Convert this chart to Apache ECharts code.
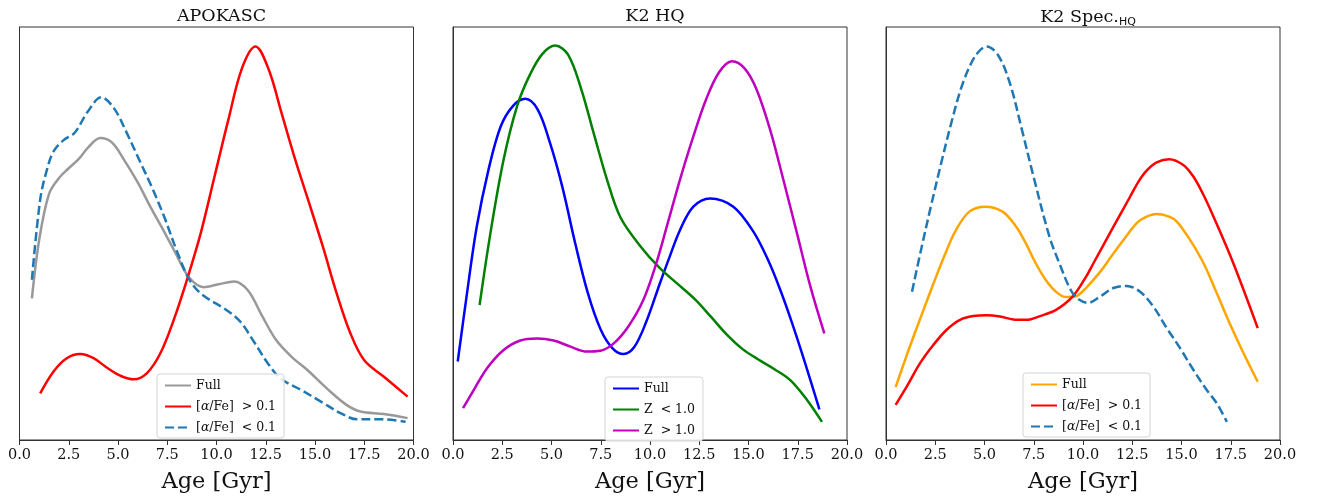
<!DOCTYPE html>
<html><head><meta charset="utf-8">
<script src="https://cdn.jsdelivr.net/npm/echarts@6/dist/echarts.min.js"></script>
<style>html,body{margin:0;padding:0;background:#fff}#c{width:1322px;height:499px}</style>
</head><body><div id="c"></div>
<script>
// ---- data: [age (Gyr), density (arbitrary units, 0..100 of plot height)] ----
const panelTitles = ['APOKASC', 'K2 HQ', 'K2 Spec.{sub|HQ}'];
const xTicks = [0, 2.5, 5, 7.5, 10, 12.5, 15, 17.5, 20];

const apoFull = [[0.63,34.3],[1.0,48.5],[1.5,59.6],[2.0,63.4],[2.5,65.8],[3.0,68],[3.5,70.9],[4.1,73.1],[4.7,72],[5.3,67.9],[6.0,62.4],[6.64,56.5],[7.3,50.8],[7.95,45],[8.6,39.4],[9.36,37],[10.1,37.7],[10.9,38.4],[11.6,36.2],[12.3,30.2],[13.0,24.4],[13.8,20.2],[14.6,17],[15.6,12.5],[16.6,8.5],[17.3,6.9],[18.5,6.3],[19.7,5.3]];
const apoHigh = [[1.05,11.3],[1.73,16.6],[2.4,19.8],[3.08,20.8],[3.76,19.8],[4.5,17.3],[5.15,15.5],[5.8,14.7],[6.47,16.2],[7.15,21],[7.83,29.1],[8.5,38.8],[9.2,50.1],[9.9,63.8],[10.6,77.5],[11.3,90.1],[11.98,95.3],[12.65,89.7],[13.3,79.2],[14.0,67.8],[14.7,57.4],[15.4,46.8],[16.1,35.5],[16.8,25.8],[17.5,19.3],[18.5,15.3],[19.7,10.5]];
const apoLow = [[0.63,38.8],[1.05,58.2],[1.39,65.4],[1.73,69.9],[2.24,72.6],[2.8,74.4],[3.45,79.4],[4.15,83],[4.8,80.3],[5.45,74.3],[6.1,67.6],[6.7,61.4],[7.35,54],[8.0,45.6],[8.65,38.6],[9.3,35.1],[10.5,31.5],[11.2,28.7],[11.9,23.8],[12.6,18.6],[13.25,14.9],[14.3,12.1],[15.3,9.3],[16.3,6.5],[17.15,5],[18.5,5],[19.6,4.4]];

const k2Full = [[0.24,19],[0.71,35.5],[1.2,51.5],[1.8,65.4],[2.42,75.9],[3.05,80.9],[3.67,82.6],[4.3,80],[4.92,72],[5.55,61.3],[6.2,47.7],[6.85,35.5],[7.5,26.7],[8.1,22.2],[8.66,20.8],[9.2,22.5],[9.8,28.5],[10.5,37.9],[11.0,44.4],[11.52,50.8],[12.2,56.5],[13.05,58.5],[14.23,56.5],[15.24,50.5],[16.0,43.5],[16.6,36.5],[17.2,28.5],[17.85,19],[18.6,7.4]];
const k2Low = [[1.35,32.7],[1.9,50.1],[2.57,67.9],[3.25,80.8],[3.9,88.4],[4.54,93.5],[5.19,95.5],[5.84,93.3],[6.5,85.1],[7.14,74.3],[7.82,63],[8.49,54],[9.5,47],[10.5,41.6],[11.4,37.8],[12.3,34],[13.1,29.8],[13.9,25.5],[14.7,22],[15.5,19.5],[16.3,17.2],[17.12,14.5],[17.97,9.7],[18.73,4.4]];
const k2High = [[0.51,7.7],[1.05,12.1],[1.73,17.4],[2.57,21.8],[3.42,24.1],[4.26,24.6],[5.11,24.1],[5.96,22.6],[6.8,21.4],[7.48,21.6],[8.16,23.4],[8.9,27.5],[9.66,33.9],[10.3,42.5],[10.9,52.5],[11.52,63],[12.2,73.5],[12.85,82.5],[13.5,89],[14.16,91.7],[14.8,90],[15.4,85],[16.1,75.1],[16.77,63],[17.46,50.1],[18.14,37.2],[18.85,25.8]];

const specFull = [[0.49,12.8],[1.05,20.5],[1.55,27],[2.03,33.1],[2.54,39.5],[3.05,45.6],[3.55,50.8],[4.23,55.3],[5.04,56.5],[5.92,55.3],[6.6,51.7],[7.1,47.6],[7.6,42.8],[8.12,38.7],[8.63,35.9],[9.14,34.6],[9.64,34.8],[10.15,36.8],[10.95,41.2],[11.37,44],[12.05,48.4],[12.73,52.5],[13.2,54],[13.74,54.7],[14.3,54.2],[14.76,52.9],[15.44,48.4],[16.12,42.8],[16.75,36],[17.42,28.5],[18.1,21.5],[18.87,14.1]];
const specHigh = [[0.49,8.5],[1.05,12.9],[1.73,18.6],[2.4,23],[3.08,26.7],[3.76,29.1],[4.43,30],[5.11,30.2],[5.79,29.9],[6.46,29.2],[7.14,29.1],[7.82,30],[8.63,31.5],[9.47,34.7],[10.15,39.5],[10.53,42.8],[11.54,51.6],[12.39,58.9],[12.81,62.5],[13.23,65.2],[13.74,67.2],[14.38,68],[15.09,66.6],[15.6,63.8],[16.1,59.5],[16.62,54.1],[17.63,42.8],[18.87,27.1]];
const specLow = [[1.32,35.9],[1.8,46.5],[2.3,57],[2.8,67],[3.3,76.5],[3.8,85],[4.3,91],[4.7,94],[5.11,95.3],[5.7,93.1],[6.3,86.2],[6.9,75.1],[7.53,63],[8.3,49.2],[8.8,42.8],[9.39,36.2],[9.8,34],[10.25,33.2],[10.86,34.7],[11.54,36.8],[12.2,37.3],[12.9,35.9],[13.57,32.3],[14.25,27.1],[14.92,22.3],[15.6,17],[16.28,12.1],[16.79,8.9],[17.3,4.4]];

const seriesNames = [
  ['Full', '[{i|α}/Fe]  > 0.1', '[{i|α}/Fe]  < 0.1'],
  ['Full', 'Z  < 1.0', 'Z  > 1.0'],
  ['Full', '[{i|α}/Fe]  > 0.1', '[{i|α}/Fe]  < 0.1']
];
const seriesData = [[apoFull, apoHigh, apoLow],[k2Full, k2Low, k2High],[specFull, specHigh, specLow]];
const seriesColors = [['#999999','#ff0000','#1f77b4'],['#0000ff','#008000','#bf00bf'],['#ffa500','#ff0000','#1f77b4']];
const seriesDashed = [[false,false,true],[false,false,false],[false,false,true]];

// ---- layout ----
const SERIF = 'DejaVu Serif';
const gridLefts = [19.5, 453, 886];
const gridW = 394, gridTop = 27, gridH = 413;
const legendPos = [[157, 374], [605, 377], [1023, 373]];

const chart = echarts.init(document.getElementById('c'), null, {renderer: 'canvas'});
const grids = [], xAxes = [], yAxes = [], series = [], legends = [], titles = [];

for (let p = 0; p < 3; p++) {
  grids.push({left: gridLefts[p], top: gridTop, width: gridW, height: gridH, show: true,
    borderColor: '#333', borderWidth: 1, backgroundColor: 'transparent', containLabel: false});
  xAxes.push({gridIndex: p, type: 'value', min: 0, max: 20, interval: 2.5,
    name: 'Age [Gyr]', nameLocation: 'middle', nameGap: 31,
    nameTextStyle: {fontFamily: SERIF, fontSize: 22.5, color: '#111'},
    axisLine: {show: true, onZero: false, lineStyle: {color: '#333', width: 1}},
    axisTick: {show: true, length: 5, lineStyle: {color: '#333'}},
    axisLabel: {fontFamily: SERIF, fontSize: 14.5, color: '#111', margin: 8,
      formatter: v => v.toFixed(1)},
    splitLine: {show: false}});
  yAxes.push({gridIndex: p, type: 'value', min: 0, max: 100,
    axisLine: {show: true, lineStyle: {color: '#333'}}, axisTick: {show: false},
    axisLabel: {show: false}, splitLine: {show: false}});
  const centerX = gridLefts[p] + gridW / 2;
  titles.push({text: panelTitles[p], left: centerX, top: 2, textAlign: 'center',
    textStyle: {fontFamily: SERIF, fontSize: 17.5, fontWeight: 'normal', color: '#111',
      rich: {sub: {fontFamily: 'DejaVu Sans', fontSize: 11, color: '#111', padding: [10, 0, 0, 0]}}}});
  const names = [];
  for (let s = 0; s < 3; s++) {
    const id = 'p' + p + 's' + s;
    names.push(id);
    series.push({id: id, name: id, type: 'line', xAxisIndex: p, yAxisIndex: p,
      data: seriesData[p][s], smooth: 0.35, symbol: 'none', silent: true,
      lineStyle: {color: seriesColors[p][s], width: 2.5,
        type: seriesDashed[p][s] ? [9, 4] : 'solid', cap: 'butt', join: 'round'},
      itemStyle: {color: seriesColors[p][s]}, z: 3});
  }
  legends.push({data: names, left: legendPos[p][0], top: legendPos[p][1], orient: 'vertical',
    itemWidth: 26, itemHeight: 11, itemGap: 8, padding: [5, 8, 4, 7],
    backgroundColor: 'rgba(255,255,255,0.85)', borderColor: '#d4d4d4', borderWidth: 1, borderRadius: 3,
    selectedMode: false, itemStyle: {opacity: 0},
    formatter: (function(pp){ return function(n){ return seriesNames[pp][+n.slice(3)]; }; })(p),
    textStyle: {fontFamily: SERIF, fontSize: 12.5, color: '#111',
      rich: {i: {fontFamily: SERIF, fontStyle: 'italic', fontSize: 12.5, color: '#111'}}}});
}

chart.setOption({animation: false, backgroundColor: '#fff', title: titles, grid: grids,
  xAxis: xAxes, yAxis: yAxes, legend: legends, series: series});
</script></body></html>
